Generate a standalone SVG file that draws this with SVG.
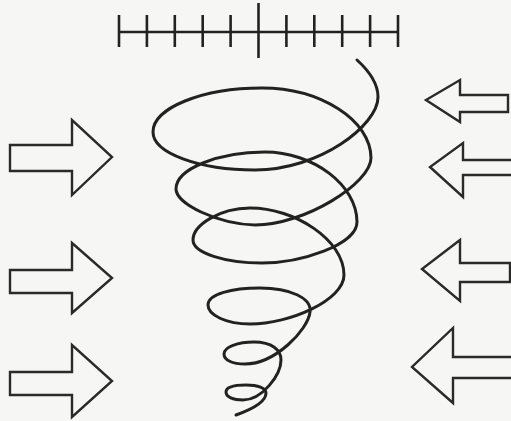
<svg xmlns="http://www.w3.org/2000/svg" width="511" height="421" viewBox="0 0 511 421">
<style>
.ink{fill:none;stroke:#222;stroke-width:2.6;stroke-linejoin:miter;stroke-linecap:butt}
.arrow{fill:none;stroke:#2a2a2a;stroke-width:2.4;stroke-linejoin:miter}
.spiral{fill:none;stroke:#222;stroke-width:3;stroke-linecap:round;stroke-linejoin:round}
</style>
<rect width="511" height="421" fill="#f6f6f4"/>
<g id="scale" class="ink">
<path d="M119,32 H398"/>
<path d="M119,15 V47 M146.9,15 V47 M174.8,15 V47 M202.7,15 V47 M230.6,15 V47 M286.4,15 V47 M314.3,15 V47 M342.2,15 V47 M370.1,15 V47 M398,15 V47"/>
<path d="M258.5,3 V58"/>
</g>
<g id="spiral">
<path class="spiral" d="M357,60 C368,70 378,82 378,97 C378,125 320,170 255,170 C199,170 153,153 153,132 C153,108 202,88 262,88 C320,88 371,120 371,158 C371,183 305,225 255,225 C218,224 176,204 176,189 C176,169 218,152 265,152 C313,152 357,185 357,222 C357,245 300,263 262,263 C225,263 193,253 193,240 C193,225 220,208 250,208 C295,208 344,240 344,275 C344,300 290,324 250,324 C226,324 208,315 208,305 C208,294 232,288 260,288 C290,288 312,298 310,312 C308,330 275,364 245,364 C232,364 224,360 224,354 C224,347 238,342 254,342 C272,342 281,350 281,360 C281,375 262,400 243,400 C233,400 226,397 226,392 C226,386 236,385 246,385 C258,385 266,388 266,393 C266,403 250,410 236,415"/>
</g>
<g id="arrow-left-1"><path class="arrow" d="M10,145 H72 V120 L112,157 L72,195 V171 H10 Z"/></g>
<g id="arrow-left-2"><path class="arrow" d="M10,270 H72 V243 L112,278 L72,313 V293 H10 Z"/></g>
<g id="arrow-left-3"><path class="arrow" d="M10,372 H72 V345 L112,381 L72,417 V395 H10 Z"/></g>
<g id="arrow-right-1"><path class="arrow" d="M508,95 H460 V80 L426,100 L460,122 V112 H508 Z"/></g>
<g id="arrow-right-2"><path class="arrow" d="M512,160 H463 V143 L430,167 L463,197 V175 H512"/></g>
<g id="arrow-right-3"><path class="arrow" d="M510,263 H460 V240 L422,269 L460,301 V282 H510 Z"/></g>
<g id="arrow-right-4"><path class="arrow" d="M512,357 H453 V328 L412,367 L453,403 V378 H512"/></g>
<g id="connectors"></g>
</svg>
